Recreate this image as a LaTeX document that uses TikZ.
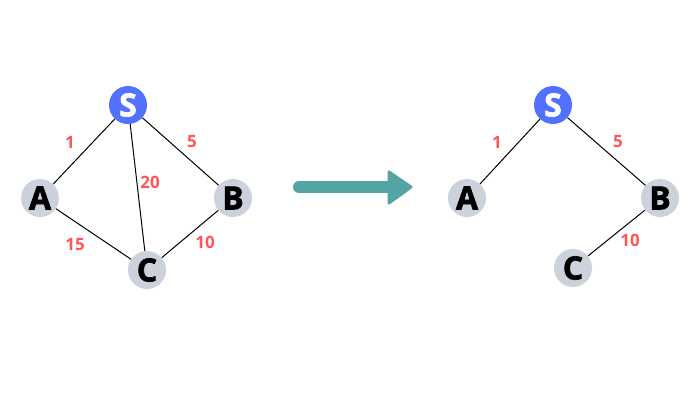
\documentclass[tikz,border=0pt]{standalone}
\usepackage{fontspec}
\setmainfont{Open Sans}
\newfontfamily\heavyfont{Open Sans}[BoldFeatures={FakeBold=2}]
\usepackage{tikz}

\definecolor{sblue}{RGB}{82,113,255}
\definecolor{vgray}{RGB}{203,210,219}
\definecolor{wred}{RGB}{255,87,87}
\definecolor{teal2}{RGB}{84,164,164}

\begin{document}
\begin{tikzpicture}[x=1pt, y=-1pt,
  vtx/.style={circle, fill=vgray, minimum size=38pt, inner sep=0pt, font=\heavyfont\fontsize{32}{32}\selectfont\bfseries},
  src/.style={vtx, fill=sblue, text=white},
  wt/.style={text=wred, inner sep=0pt, font=\fontsize{17}{17}\selectfont\bfseries},
  edge/.style={draw=black, line width=1pt}]
  \useasboundingbox (0,0) rectangle (700,400);
  % before
  \node[src] (S1) at (128,105) {S};
  \node[vtx] (A1) at (40,198) {A};
  \node[vtx] (B1) at (233,198) {B};
  \node[vtx] (C1) at (147,270) {C};
  \draw[edge] (S1) -- (A1);
  \draw[edge] (S1) -- (B1);
  \draw[edge] (S1) -- (C1);
  \draw[edge] (A1) -- (C1);
  \draw[edge] (B1) -- (C1);
  \node[wt] (w1) at (70,142) {1};
  \node[wt] (w5) at (192,142) {5};
  \node[wt] (w20) at (150,182) {20};
  \node[wt] (w15) at (75,245) {15};
  \node[wt] (w10) at (205,242) {10};
  % arrow
  \coordinate (arrL) at (299,187);
  \coordinate (arrR) at (392,187);
  \draw[teal2, line width=12pt, line cap=round] (arrL) -- (arrR);
  \fill[teal2, draw=teal2, line width=3pt, line join=round] (389,172) -- (411,187) -- (389,203) -- cycle;
  % after
  \node[src] (S2) at (553,105) {S};
  \node[vtx] (A2) at (467,198) {A};
  \node[vtx] (B2) at (660,198) {B};
  \node[vtx] (C2) at (573,268) {C};
  \draw[edge] (S2) -- (A2);
  \draw[edge] (S2) -- (B2);
  \draw[edge] (B2) -- (C2);
  \node[wt] (v1) at (497,142) {1};
  \node[wt] (v5) at (618,142) {5};
  \node[wt] (v10) at (630,240) {10};
\end{tikzpicture}
\end{document}
